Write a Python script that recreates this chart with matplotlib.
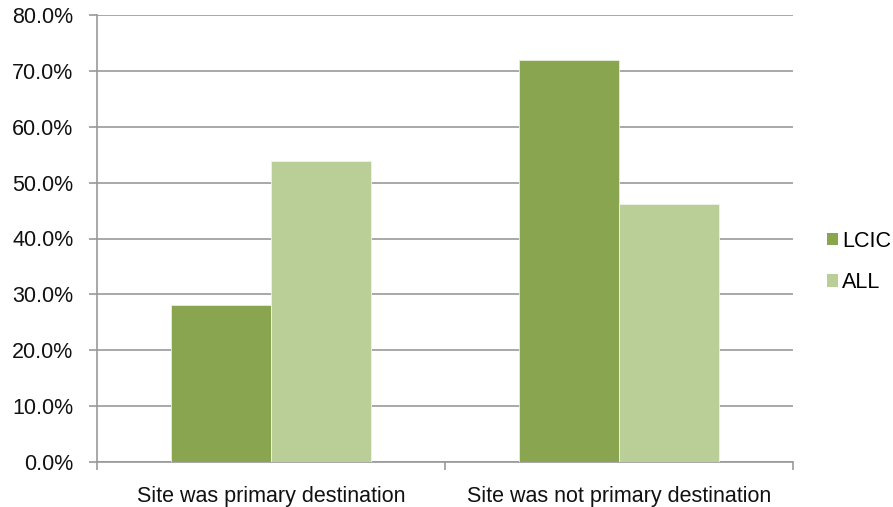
import matplotlib
matplotlib.use("Agg")
import matplotlib.pyplot as plt
import numpy as np
from matplotlib.ticker import FuncFormatter, MultipleLocator
from matplotlib.patches import Patch

plt.rcParams['font.family'] = ['Liberation Sans', 'DejaVu Sans']

categories = ["Site was primary destination", "Site was not primary destination"]
series_names = ["LCIC", "ALL"]
lcic_values = [28.1, 71.9]
all_values = [53.9, 46.1]
colors = ["#8AA54F", "#BACF98"]

fig = plt.figure(figsize=(8.93, 5.07), dpi=100)
ax = fig.add_axes([97 / 893, 1 - 462 / 507, (793 - 97) / 893, (462 - 15) / 507])

x = np.arange(len(categories))
w = 0.286
ax.bar(x - w / 2, lcic_values, w, color=colors[0], edgecolor="#E8EEDC", linewidth=0.6, zorder=3)
ax.bar(x + w / 2, all_values, w, color=colors[1], edgecolor="#EEF3E6", linewidth=0.6, zorder=3)

ax.set_xlim(-0.5, len(categories) - 0.5)
ax.set_ylim(0, 80)
ax.yaxis.set_major_locator(MultipleLocator(10))
ax.yaxis.set_major_formatter(FuncFormatter(lambda v, p: f"{v:.1f}%"))
ax.yaxis.grid(True, color="#999999", linewidth=1.2, zorder=0)
ax.set_axisbelow(True)

fs = 15.5
ax.set_xticks(x)
ax.set_xticklabels(categories, fontsize=fs, color="#111111")
ax.set_xticks([-0.5, 0.5, 1.5], minor=True)
ax.tick_params(axis="x", which="major", length=0, pad=17)
ax.tick_params(axis="x", which="minor", length=6, width=1.2, color="#999999", direction="out")
ax.tick_params(axis="y", length=6, width=1.2, color="#999999", labelsize=fs, labelcolor="#111111", pad=11)

for s in ["top", "right"]:
    ax.spines[s].set_visible(False)
for s in ["left", "bottom"]:
    ax.spines[s].set_color("#999999")
    ax.spines[s].set_linewidth(1.2)

handles = [Patch(facecolor=c, edgecolor="none") for c in colors]
fig.legend(handles, series_names, loc="center left", bbox_to_anchor=(827 / 893, 1 - 262 / 507),
           frameon=False, fontsize=fs, handlelength=0.5, handleheight=0.5,
           handletextpad=0.2, labelspacing=0.95, borderpad=0, borderaxespad=0)

fig.savefig("out.png", dpi=100, facecolor="white")
